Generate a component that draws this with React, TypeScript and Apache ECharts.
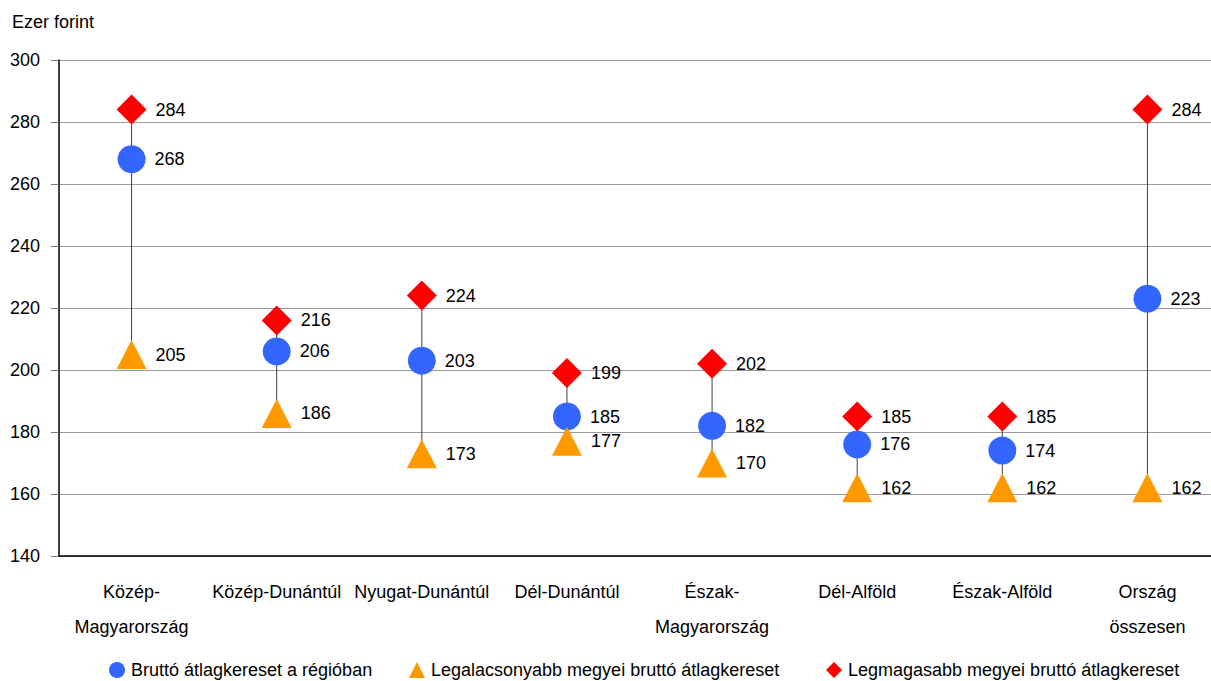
import React, { useEffect, useRef } from "react";
import * as echarts from "echarts";

const categories = [
  "Közép-\nMagyarország",
  "Közép-Dunántúl",
  "Nyugat-Dunántúl",
  "Dél-Dunántúl",
  "Észak-\nMagyarország",
  "Dél-Alföld",
  "Észak-Alföld",
  "Ország\nösszesen",
];
const avgValues = [268, 206, 203, 185, 182, 176, 174, 223];
const minValues = [205, 186, 173, 177, 170, 162, 162, 162];
const maxValues = [284, 216, 224, 199, 202, 185, 185, 284];
const yTicks = { min: 140, max: 300, interval: 20 };
const seriesNames = [
  "Bruttó átlagkereset a régióban",
  "Legalacsonyabb megyei bruttó átlagkereset",
  "Legmagasabb megyei bruttó átlagkereset",
];

const FONT = "'Liberation Sans', Arial, sans-serif";

export default function App() {
  const ref = useRef<HTMLDivElement>(null);
  useEffect(() => {
    if (!ref.current) return;
    document.body.style.margin = "0";
    document.body.style.overflow = "hidden";
    const chart = echarts.init(ref.current, undefined, { renderer: "svg" });
    const label = {
      show: true,
      position: "right" as const,
      distance: 9,
      color: "#000",
      fontSize: 18,
      fontFamily: FONT,
      formatter: (p: any) => String(Math.round(p.value)),
    };
    const legendBase = {
      top: 656,
      itemWidth: 16,
      itemHeight: 16,
      textStyle: { fontSize: 18, fontFamily: FONT, color: "#000", padding: [0, 0, 0, 1] },
    };
    chart.setOption({
      animation: false,
      textStyle: { fontFamily: FONT },
      grid: { left: 59, right: 0, top: 60, bottom: 125, containLabel: false },
      graphic: [
        {
          type: "text",
          left: 12,
          top: 13,
          style: { text: "Ezer forint", fontSize: 18, fontFamily: FONT, fill: "#000" },
        },
      ],
      legend: [
        { ...legendBase, left: 104, data: [{ name: seriesNames[0], icon: "circle" }] },
        { ...legendBase, left: 404, data: [{ name: seriesNames[1], icon: "triangle" }] },
        { ...legendBase, left: 821, data: [{ name: seriesNames[2], icon: "diamond" }] },
      ],
      xAxis: {
        type: "category",
        data: categories,
        axisLine: { show: true, lineStyle: { color: "#000", width: 1.5 } },
        axisTick: { show: false },
        axisLabel: {
          color: "#000",
          fontSize: 18,
          fontFamily: FONT,
          margin: 18,
          lineHeight: 35,
          interval: 0,
        },
        splitLine: { show: false },
      },
      yAxis: {
        type: "value",
        min: yTicks.min,
        max: yTicks.max,
        interval: yTicks.interval,
        axisLine: { show: true, lineStyle: { color: "#000", width: 1.5 } },
        axisTick: { show: true, length: 8, lineStyle: { color: "#777" } },
        axisLabel: { color: "#000", fontSize: 18, fontFamily: FONT, margin: 19 },
        splitLine: { show: true, lineStyle: { color: "#999", width: 1 } },
      },
      series: [
        {
          type: "custom",
          name: "range",
          silent: true,
          z: 1,
          data: categories.map((_, i) => [i, minValues[i], maxValues[i]]),
          renderItem: (params: any, api: any) => {
            const p1 = api.coord([api.value(0), api.value(1)]);
            const p2 = api.coord([api.value(0), api.value(2)]);
            return {
              type: "line",
              shape: { x1: p1[0], y1: p1[1], x2: p2[0], y2: p2[1] },
              style: { stroke: "#404040", lineWidth: 1 },
            };
          },
        },
        {
          type: "scatter",
          name: seriesNames[0],
          symbol: "circle",
          symbolSize: 28,
          z: 2,
          itemStyle: { color: "#3366ff", opacity: 1 },
          label,
          data: avgValues,
        },
        {
          type: "scatter",
          name: seriesNames[1],
          symbol: "triangle",
          symbolSize: [30, 29],
          z: 3,
          itemStyle: { color: "#ff9900", opacity: 1 },
          label,
          data: minValues,
        },
        {
          type: "scatter",
          name: seriesNames[2],
          symbol: "diamond",
          symbolSize: [30, 30],
          z: 4,
          itemStyle: { color: "#ff0000", opacity: 1 },
          label,
          data: maxValues,
        },
      ],
    });
    return () => chart.dispose();
  }, []);
  return <div ref={ref} style={{ width: 1220, height: 681 }} />;
}
